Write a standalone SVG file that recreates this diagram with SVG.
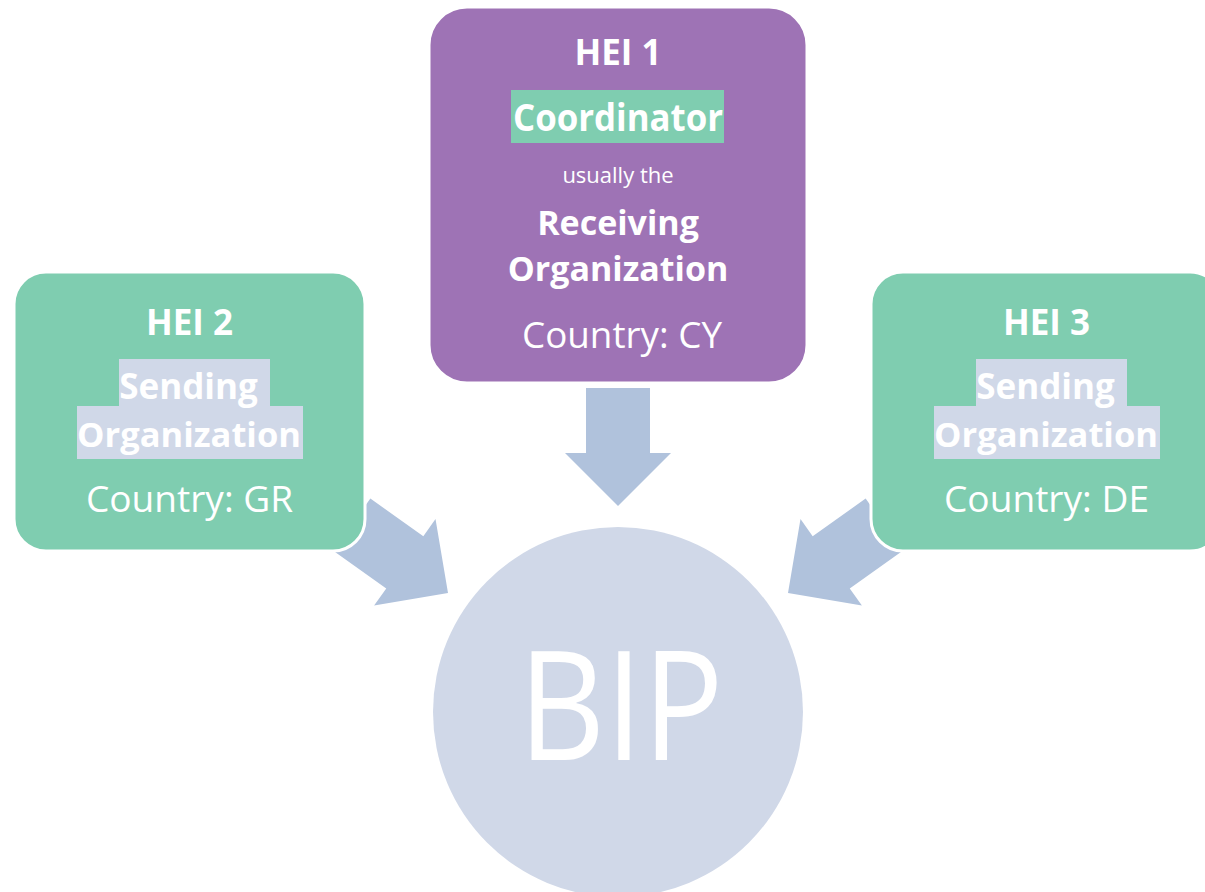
<svg xmlns="http://www.w3.org/2000/svg" width="1205" height="892" viewBox="0 0 1205 892">
<style>
.t{font-family:"Open Sans","Noto Sans","DejaVu Sans",sans-serif;fill:#fff;text-anchor:middle}
.b{font-weight:bold}
.green{fill:#7FCDB0;stroke:#fff;stroke-width:3}
.purple{fill:#9E73B5;stroke:#fff;stroke-width:3}
.hl{fill:#D0D8E8}
.arrow{fill:#B0C2DC}
</style>
<defs>
<polygon id="arr" points="-118,-32 -53,-32 -53,-53 0,0 -53,53 -53,32 -118,32"/>
</defs>
<rect width="1205" height="892" fill="#fff"/>
<g id="bip">
<circle cx="618" cy="712" r="185" fill="#D0D8E8"/>
<text class="t" x="621" y="760" font-size="152" textLength="205" lengthAdjust="spacingAndGlyphs">BIP</text>
</g>
<g id="connectors" class="arrow">
<use href="#arr" transform="translate(618,506) rotate(90)"/>
<use href="#arr" transform="translate(448,593) rotate(35.4)"/>
<use href="#arr" transform="translate(788,593) rotate(144.6)"/>
</g>
<g id="hei1">
<rect class="purple" x="429" y="7" width="378" height="376" rx="38"/>
<text class="t b" x="618" y="65" font-size="35">HEI 1</text>
<rect x="511" y="90" width="213" height="53" fill="#7FCDB0"/>
<text class="t b" x="618" y="131" font-size="38" textLength="210" lengthAdjust="spacingAndGlyphs">Coordinator</text>
<text class="t" x="618" y="183" font-size="22">usually the</text>
<text class="t b" x="618" y="235" font-size="34">Receiving</text>
<text class="t b" x="618" y="281" font-size="34">Organization</text>
<text class="t" x="622" y="348" font-size="37" textLength="200" lengthAdjust="spacingAndGlyphs">Country: CY</text>
</g>
<g id="hei2">
<rect class="green" x="14" y="272" width="351" height="279" rx="32"/>
<text class="t b" x="189.5" y="335" font-size="35">HEI 2</text>
<rect class="hl" x="119" y="359" width="151" height="48"/>
<rect class="hl" x="77" y="406" width="226" height="53"/>
<text class="t b" x="188.5" y="399" font-size="35">Sending</text>
<text class="t b" x="189" y="447" font-size="34.5">Organization</text>
<text class="t" x="189.5" y="512" font-size="37" textLength="207" lengthAdjust="spacingAndGlyphs">Country: GR</text>
</g>
<g id="hei3">
<rect class="green" x="871" y="272" width="351" height="279" rx="32"/>
<text class="t b" x="1046.5" y="335" font-size="35">HEI 3</text>
<rect class="hl" x="976" y="359" width="151" height="48"/>
<rect class="hl" x="934" y="406" width="226" height="53"/>
<text class="t b" x="1045.5" y="399" font-size="35">Sending</text>
<text class="t b" x="1046" y="447" font-size="34.5">Organization</text>
<text class="t" x="1046.5" y="512" font-size="37" textLength="205" lengthAdjust="spacingAndGlyphs">Country: DE</text>
</g>
</svg>
